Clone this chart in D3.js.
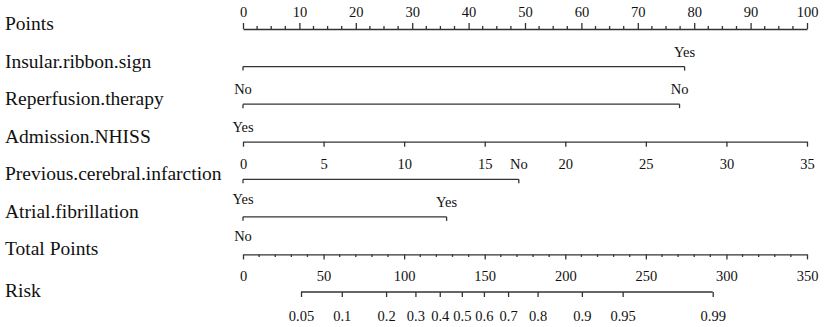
<!DOCTYPE html>
<html>
<head>
<meta charset="utf-8">
<script src="https://cdn.jsdelivr.net/npm/d3@7"></script>
<style>
  body { margin: 0; background: #fff; }
  svg text { font-family: "Liberation Serif", "Times New Roman", serif; fill: #111; }
</style>
</head>
<body>
<svg id="chart"></svg>
<script>
// nomogram rows
var rowNames = ["Points", "Insular.ribbon.sign", "Reperfusion.therapy", "Admission.NHISS",
  "Previous.cerebral.infarction", "Atrial.fibrillation", "Total Points", "Risk"];

// points axis
var pointTicks = [0, 10, 20, 30, 40, 50, 60, 70, 80, 90, 100];

// categorical rows: points at each level and the label drawn over it
var insularPoints = [0, 78.3];
var insularLabels = ["", "Yes"];
var reperfPoints = [0, 77.4];
var reperfLabels = ["No", "No"];
var prevPoints = [0, 48.9];
var prevLabels = ["", "No"];
var atrialPoints = [0, 36.1];
var atrialLabels = ["", "Yes"];

// Admission.NHISS (0..35 spans 0..100 points)
var nhissTicks = [0, 5, 10, 15, 20, 25, 30, 35];
var nhissLabelAbove = "Yes";

// total points
var totalTicks = [0, 50, 100, 150, 200, 250, 300, 350];
var totalLabelAbove = "No";
var atrialLabelLeft = "Yes";

// risk ticks and the total points where they sit
var riskTicks = ["0.05", "0.1", "0.2", "0.3", "0.4", "0.5", "0.6", "0.7", "0.8", "0.9", "0.95", "0.99"];
var riskPoints = [36.0, 61.3, 88.8, 107.0, 122.1, 135.8, 149.5, 164.5, 182.8, 210.3, 235.6, 291.5];

var svgWidth = 829;
var svgHeight = 327;
var x0 = 243, x1 = 807;
var lineColor = "#333";

var svg = d3.select("#chart")
    .attr("width", svgWidth)
    .attr("height", svgHeight);

var rowY = d3.scalePoint().domain(rowNames).range([29, 292]);
var xPts = d3.scaleLinear().domain([0, 100]).range([x0, x1]);
var xNhiss = d3.scaleLinear().domain([0, 35]).range([x0, x1]);
var xTotal = d3.scaleLinear().domain([0, 350]).range([x0, x1]);

// row labels
svg.selectAll("text.rowname")
    .data(rowNames)
    .enter()
    .append("text")
    .attr("class", "rowname")
    .attr("x", 5)
    .attr("y", function(d) { return rowY(d) + (d == "Risk" ? 5 : 1); })
    .style("font-size", "19.5px")
    .text(function(d) { return d; });

function styleAxis(g) {
    g.selectAll("path.domain").attr("stroke", lineColor).attr("stroke-width", 1.3);
    g.selectAll(".tick line").attr("stroke", lineColor).attr("stroke-width", 1.3);
    g.selectAll(".tick text")
        .style("font-family", "'Liberation Serif', serif")
        .style("font-size", "14.5px")
        .attr("fill", "#111");
}

function minorTicks(g, scale, values, size) {
    g.selectAll(null)
        .data(values)
        .enter()
        .append("line")
        .attr("x1", function(d) { return scale(d); })
        .attr("x2", function(d) { return scale(d); })
        .attr("y1", 0)
        .attr("y2", size)
        .attr("stroke", lineColor)
        .attr("stroke-width", 1.3);
}

// Points axis (ticks up, labels above)
var gPts = svg.append("g").attr("transform", "translate(0," + rowY("Points") + ")");
gPts.call(d3.axisTop(xPts).tickValues(pointTicks).tickSize(6).tickSizeOuter(0).tickPadding(6));
minorTicks(gPts, xPts, d3.range(0, 100, 2.5).filter(function(d) { return d % 10 != 0; }), -3);
styleAxis(gPts);

// categorical rows
function catRow(name, pts, labels) {
    var y = rowY(name);
    var g = svg.append("g").attr("transform", "translate(0," + y + ")");
    g.append("line")
        .attr("x1", xPts(d3.min(pts)))
        .attr("x2", xPts(d3.max(pts)))
        .attr("stroke", lineColor)
        .attr("stroke-width", 1.3);
    minorTicks(g, xPts, pts, 4);
    g.selectAll("text")
        .data(labels)
        .enter()
        .append("text")
        .attr("x", function(d, i) { return xPts(pts[i]); })
        .attr("y", -10)
        .attr("text-anchor", "middle")
        .style("font-size", "14.5px")
        .text(function(d) { return d; });
}
catRow("Insular.ribbon.sign", insularPoints, insularLabels);
catRow("Reperfusion.therapy", reperfPoints, reperfLabels);
catRow("Previous.cerebral.infarction", prevPoints, prevLabels);
catRow("Atrial.fibrillation", atrialPoints, atrialLabels);

// Admission.NHISS
var gN = svg.append("g").attr("transform", "translate(0," + rowY("Admission.NHISS") + ")");
gN.call(d3.axisBottom(xNhiss).tickValues(nhissTicks).tickSize(5).tickSizeOuter(0).tickPadding(12));
styleAxis(gN);
gN.append("text")
    .attr("x", xNhiss(0)).attr("y", -10)
    .attr("text-anchor", "middle")
    .style("font-size", "14.5px")
    .text(nhissLabelAbove);

// Total Points
var gT = svg.append("g").attr("transform", "translate(0," + rowY("Total Points") + ")");
gT.call(d3.axisBottom(xTotal).tickValues(totalTicks).tickSize(5).tickSizeOuter(0).tickPadding(11));
minorTicks(gT, xTotal, d3.range(0, 350, 10).filter(function(d) { return d % 50 != 0; }), 2.5);
styleAxis(gT);
gT.append("text")
    .attr("x", xTotal(0)).attr("y", -13)
    .attr("text-anchor", "middle")
    .style("font-size", "14.5px")
    .text(totalLabelAbove);

// extra label over atrial row (left)
svg.append("text")
    .attr("x", xPts(0)).attr("y", rowY("Atrial.fibrillation") - 13)
    .attr("text-anchor", "middle")
    .style("font-size", "14.5px")
    .text(atrialLabelLeft);

// Risk
var gR = svg.append("g").attr("transform", "translate(0," + rowY("Risk") + ")");
gR.call(d3.axisBottom(xTotal)
    .tickValues(riskPoints)
    .tickFormat(function(d, i) { return riskTicks[i]; })
    .tickSize(5).tickSizeOuter(0).tickPadding(14));
gR.select("path.domain").attr("d", "M" + xTotal(d3.min(riskPoints)) + ",0H" + xTotal(d3.max(riskPoints)));
styleAxis(gR);
</script>
</body>
</html>
